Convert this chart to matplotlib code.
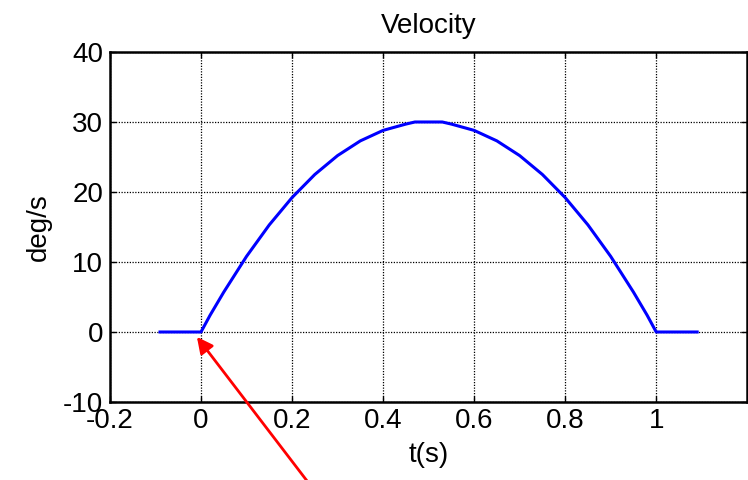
import matplotlib
matplotlib.use("Agg")
import matplotlib.pyplot as plt

# velocity profile
t = [-0.09, 0.0, 0.02, 0.05, 0.1, 0.15, 0.2, 0.25, 0.3, 0.35, 0.4, 0.45, 0.47,
     0.53, 0.55, 0.6, 0.65, 0.7, 0.75, 0.8, 0.85, 0.9, 0.95, 0.98, 1.0, 1.09]
vel = [0.0, 0.0, 2.4, 5.7, 10.8, 15.3, 19.2, 22.5, 25.2, 27.3, 28.8, 29.7, 30.0,
       30.0, 29.7, 28.8, 27.3, 25.2, 22.5, 19.2, 15.3, 10.8, 5.7, 2.4, 0.0, 0.0]

xticks = [-0.2, 0, 0.2, 0.4, 0.6, 0.8, 1]
xticklabels = ['-0.2', '0', '0.2', '0.4', '0.6', '0.8', '1']
yticks = [-10, 0, 10, 20, 30, 40]
yticklabels = ['-10', '0', '10', '20', '30', '40']

plt.rcParams['font.family'] = ['Liberation Sans', 'DejaVu Sans']

fig = plt.figure(figsize=(7.48, 4.8), dpi=100)
ax = fig.add_axes([0.147, 0.1625, 0.852, 0.7292])

ax.plot(t, vel, color='#0000ff', lw=2.2)

ax.set_xlim(-0.2, 1.2)
ax.set_ylim(-10, 40)
ax.set_xticks(xticks)
ax.set_xticklabels(xticklabels)
ax.set_yticks(yticks)
ax.set_yticklabels(yticklabels)
ax.grid(True, color='black', linestyle=(0, (1, 1.2)), lw=0.9)
ax.tick_params(direction='in', length=4, width=1, labelsize=20, top=True, right=True)
ax.tick_params(axis='x', pad=4)
ax.tick_params(axis='y', pad=5)
for s in ax.spines.values():
    s.set_linewidth(1.8)

ax.set_title('Velocity', fontsize=20, pad=14)
ax.set_xlabel('t(s)', fontsize=20, labelpad=6)
ax.set_ylabel('deg/s', fontsize=20, labelpad=8)

# red arrow pointing at the start of motion
ax.annotate('', xy=(-0.009, -0.7), xytext=(310 / 748, -0.01),
            textcoords='figure fraction', annotation_clip=False,
            arrowprops=dict(arrowstyle='-|>', color='red', lw=2,
                            mutation_scale=24, shrinkA=0, shrinkB=0))

fig.savefig('out.png', dpi=100)
